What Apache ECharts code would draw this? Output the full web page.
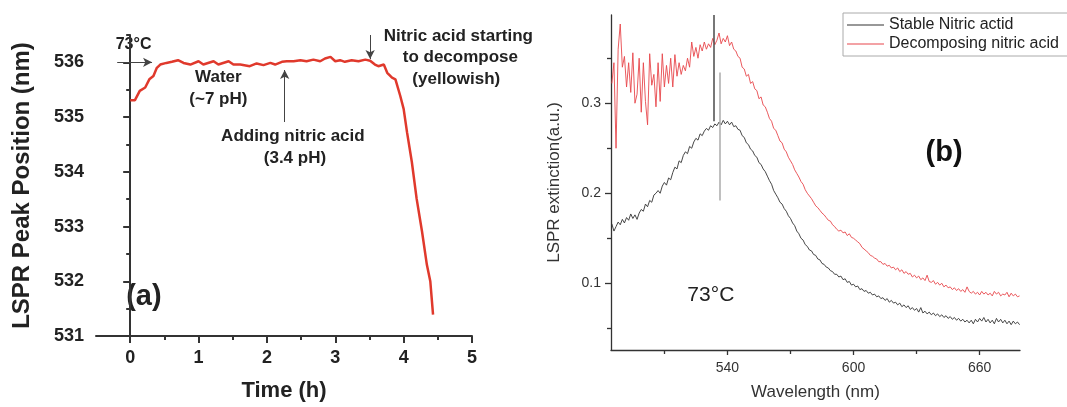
<!DOCTYPE html>
<html><head><meta charset="utf-8">
<script src="https://cdn.jsdelivr.net/npm/echarts@6/dist/echarts.min.js"></script>
<style>html,body{margin:0;padding:0;background:#fff}#c{width:1067px;height:407px}</style>
</head><body><div id="c"></div>
<script>
// ---------- Panel (a): LSPR peak position vs time ----------
const timeH = [0,0.07,0.14,0.22,0.28,0.34,0.39,0.44,0.53,0.61,0.70,0.78,0.88,1.00,1.07,1.22,1.29,1.44,1.51,1.61,1.75,1.85,1.95,2.05,2.12,2.22,2.29,2.39,2.49,2.58,2.68,2.78,2.85,2.93,3.00,3.07,3.14,3.24,3.34,3.44,3.51,3.58,3.63,3.71,3.76,3.83,3.88,3.95,4.00,4.05,4.12,4.19,4.27,4.34,4.39,4.43];
const peakNm = [535.31,535.31,535.48,535.54,535.69,535.75,535.90,535.96,535.99,536.01,536.04,535.99,535.96,536.02,535.96,536.02,535.96,536.02,535.96,535.96,535.93,535.98,535.95,535.99,535.96,536.01,536.02,536.02,536.04,536.02,536.05,536.02,536.07,536.10,536.02,536.04,536.01,536.04,536.02,536.05,536.03,535.96,535.93,535.96,535.81,535.72,535.69,535.39,535.15,534.72,534.18,533.51,532.90,532.30,532.00,531.39];
const aXMajor = [0,1,2,3,4,5];
const aXMinor = [0.5,1.5,2.5,3.5,4.5];
const aYMajor = [531,532,533,534,535,536];
const aYMinor = [531.5,532.5,533.5,534.5,535.5,536.5];

// ---------- Panel (b): LSPR extinction spectra (1 nm step from 485 nm) ----------
const wlStart = 485, wlStep = 1;
const stableExt = [
0.166,0.158,0.163,0.168,0.165,0.171,0.167,0.173,0.170,0.177,
0.172,0.176,0.171,0.178,0.182,0.180,0.188,0.185,0.192,0.190,
0.198,0.200,0.203,0.200,0.208,0.212,0.209,0.217,0.215,0.223,
0.229,0.227,0.236,0.234,0.242,0.246,0.244,0.252,0.250,0.257,
0.261,0.259,0.266,0.264,0.269,0.272,0.270,0.275,0.273,0.277,
0.275,0.279,0.276,0.281,0.277,0.280,0.276,0.279,0.274,0.275,
0.271,0.270,0.264,0.262,0.256,0.254,0.249,0.247,0.242,0.240,
0.234,0.232,0.227,0.224,0.219,0.214,0.210,0.203,0.199,0.195,
0.190,0.188,0.183,0.180,0.175,0.172,0.167,0.164,0.158,0.155,
0.150,0.148,0.143,0.141,0.137,0.136,0.132,0.131,0.127,0.126,
0.122,0.121,0.118,0.117,0.114,0.113,0.110,0.110,0.107,0.108,
0.104,0.105,0.101,0.102,0.098,0.099,0.096,0.097,0.093,0.094,
0.091,0.092,0.089,0.090,0.087,0.088,0.085,0.086,0.083,0.084,
0.081,0.083,0.079,0.081,0.078,0.079,0.076,0.078,0.074,0.076,
0.073,0.075,0.071,0.073,0.070,0.072,0.068,0.073,0.067,0.069,
0.066,0.068,0.065,0.067,0.064,0.066,0.063,0.065,0.062,0.064,
0.061,0.063,0.060,0.062,0.059,0.061,0.058,0.060,0.057,0.059,
0.056,0.059,0.055,0.060,0.057,0.061,0.058,0.062,0.057,0.060,
0.056,0.059,0.055,0.061,0.057,0.060,0.056,0.059,0.055,0.058,
0.054,0.058,0.055,0.057,0.054];
const decompExt = [
0.322,0.345,0.250,0.360,0.388,0.340,0.352,0.318,0.345,0.312,
0.356,0.300,0.310,0.350,0.290,0.345,0.302,0.276,0.355,0.320,
0.332,0.296,0.345,0.302,0.355,0.318,0.342,0.322,0.350,0.318,
0.354,0.330,0.345,0.332,0.342,0.336,0.350,0.340,0.368,0.352,
0.362,0.350,0.365,0.358,0.368,0.360,0.366,0.362,0.372,0.365,
0.370,0.378,0.366,0.372,0.368,0.375,0.364,0.368,0.360,0.358,
0.352,0.350,0.340,0.338,0.330,0.332,0.322,0.324,0.316,0.314,
0.305,0.307,0.298,0.296,0.290,0.283,0.280,0.272,0.270,0.264,
0.258,0.256,0.249,0.246,0.240,0.236,0.232,0.226,0.222,0.218,
0.213,0.210,0.204,0.200,0.197,0.194,0.190,0.186,0.184,0.181,
0.178,0.176,0.173,0.170,0.169,0.165,0.163,0.160,0.158,0.159,
0.156,0.157,0.153,0.155,0.151,0.150,0.148,0.146,0.144,0.140,
0.138,0.136,0.134,0.131,0.130,0.128,0.127,0.124,0.124,0.121,
0.122,0.119,0.120,0.117,0.118,0.115,0.117,0.113,0.115,0.111,
0.113,0.110,0.111,0.107,0.109,0.106,0.108,0.104,0.106,0.103,
0.109,0.102,0.101,0.103,0.099,0.101,0.098,0.100,0.096,0.098,
0.095,0.096,0.093,0.095,0.092,0.094,0.091,0.093,0.090,0.096,
0.091,0.089,0.091,0.088,0.090,0.087,0.091,0.088,0.090,0.087,
0.089,0.086,0.091,0.088,0.090,0.086,0.088,0.087,0.090,0.085,
0.089,0.086,0.088,0.085,0.086];
const bXMajor = [540,600,660];
const bXMinor = [510,570,630];
const bYMajor = [0.1,0.2,0.3];
const bYMinor = [0.05,0.15,0.25,0.35];
const seriesNames = ['Stable Nitric actid','Decomposing nitric acid'];

// marker lines in panel (b): [wavelength, from, to, colour, width]
const bMarkers = [[533.3,0.280,0.398,'#555',1.6],[536.3,0.192,0.334,'#b0b0b0',1.6]];

const FONT = '"Liberation Sans", Arial, Helvetica, sans-serif';
const chart = echarts.init(document.getElementById('c'), null, {renderer:'canvas'});

const aAxisLine = {lineStyle:{color:'#333', width:2}};
const bAxisLine = {lineStyle:{color:'#333', width:1.3}};

const pairs = (xs, ys) => xs.map((x,i)=>[x, ys[i]]);
const wlPairs = ys => ys.map((v,i)=>[wlStart + i*wlStep, v]);

chart.setOption({
  animation:false,
  backgroundColor:'#fff',
  textStyle:{fontFamily:FONT},
  grid:[
    {left:96, top:35, width:376, height:303},
    {left:611, top:15, width:409, height:335}
  ],
  legend:{
    data:seriesNames, orient:'vertical', left:843, top:13,
    icon:'rect', itemWidth:37, itemHeight:1.2, itemGap:3,
    padding:[4,10,4,4], borderColor:'#aaa', borderWidth:1,
    textStyle:{fontSize:16, color:'#222', fontFamily:FONT}
  },
  xAxis:[
    {type:'value', gridIndex:0, position:'bottom', min:-0.5, max:5,
     axisLine:aAxisLine, splitLine:{show:false},
     axisTick:{customValues:aXMajor, length:7, lineStyle:{width:2,color:'#333'}},
     axisLabel:{customValues:aXMajor, fontSize:18, fontWeight:'bold', color:'#222', margin:13},
     name:'Time (h)', nameLocation:'middle', nameGap:44,
     nameTextStyle:{fontSize:22, fontWeight:'bold', color:'#222'}},
    {type:'value', gridIndex:0, position:'bottom', min:-0.5, max:5,
     axisLine:{show:false}, splitLine:{show:false}, axisLabel:{show:false},
     axisTick:{customValues:aXMinor, length:4, lineStyle:{width:2,color:'#333'}}},
    {type:'value', gridIndex:1, position:'bottom', min:484.6, max:679.2,
     axisLine:bAxisLine, splitLine:{show:false},
     axisTick:{customValues:bXMajor, length:5, lineStyle:{width:1.3,color:'#333'}},
     axisLabel:{customValues:bXMajor, fontSize:14, color:'#333', margin:11},
     name:'Wavelength (nm)', nameLocation:'middle', nameGap:34,
     nameTextStyle:{fontSize:17, color:'#333'}},
    {type:'value', gridIndex:1, position:'bottom', min:484.6, max:679.2,
     axisLine:{show:false}, splitLine:{show:false}, axisLabel:{show:false},
     axisTick:{customValues:bXMinor, length:4, lineStyle:{width:1.3,color:'#333'}}}
  ],
  yAxis:[
    {type:'value', gridIndex:0, position:'left', min:531, max:536.5,
     axisLine:aAxisLine, splitLine:{show:false},
     axisTick:{customValues:aYMajor, length:7, lineStyle:{width:2,color:'#333'}},
     axisLabel:{customValues:aYMajor, fontSize:18, fontWeight:'bold', color:'#222', margin:12},
     name:'LSPR Peak Position (nm)', nameLocation:'middle', nameGap:62,
     nameTextStyle:{fontSize:24, fontWeight:'bold', color:'#222'}},
    {type:'value', gridIndex:0, position:'left', min:531, max:536.5,
     axisLine:{show:false}, splitLine:{show:false}, axisLabel:{show:false},
     axisTick:{customValues:aYMinor, length:4, lineStyle:{width:2,color:'#333'}}},
    {type:'value', gridIndex:1, position:'left', min:0.0259, max:0.398,
     axisLine:bAxisLine, splitLine:{show:false},
     axisTick:{customValues:bYMajor, length:6, lineStyle:{width:1.3,color:'#333'}},
     axisLabel:{customValues:bYMajor, fontSize:14, color:'#333', margin:10},
     name:'LSPR extinction(a.u.)', nameLocation:'middle', nameGap:48,
     nameTextStyle:{fontSize:17, color:'#333'}},
    {type:'value', gridIndex:1, position:'left', min:0.0259, max:0.398,
     axisLine:{show:false}, splitLine:{show:false}, axisLabel:{show:false},
     axisTick:{customValues:bYMinor, length:4, lineStyle:{width:1.3,color:'#333'}}}
  ],
  series:[
    {type:'line', name:'peak', xAxisIndex:0, yAxisIndex:0, data:pairs(timeH, peakNm),
     symbol:'none', clip:false, lineStyle:{color:'#e0392c', width:2.5}, itemStyle:{color:'#e0392c'},
     markLine:{silent:true, symbol:['none','arrow'], symbolSize:[7,9], label:{show:false},
       lineStyle:{color:'#444', width:1, type:'solid'},
       data:[
         [{coord:[-0.19,536.0]},{coord:[0.32,536.0]}],
         [{coord:[2.26,534.91]},{coord:[2.26,535.86]}],
         [{coord:[3.51,536.5]},{coord:[3.51,536.06]}]
       ]}},
    {type:'line', name:seriesNames[0], xAxisIndex:2, yAxisIndex:2, data:wlPairs(stableExt),
     symbol:'none', clip:false, lineStyle:{color:'#333', width:0.9}, itemStyle:{color:'#333'},
     markLine:{silent:true, symbol:['none','none'], label:{show:false},
       data:bMarkers.map(m=>[{coord:[m[0],m[1]], lineStyle:{color:m[3], width:m[4], type:'solid'}},{coord:[m[0],m[2]]}])}},
    {type:'line', name:seriesNames[1], xAxisIndex:2, yAxisIndex:2, data:wlPairs(decompExt),
     symbol:'none', clip:false, lineStyle:{color:'#e8474c', width:0.9}, itemStyle:{color:'#e8474c'}}
  ]
});

// ---------- text annotations placed in data coordinates ----------
const annA = [
  {text:'73°C', at:[0.05,536.33], size:16, bold:true},
  {text:'Water', at:[1.29,535.73], size:17, bold:true},
  {text:'(~7 pH)', at:[1.29,535.33], size:17, bold:true},
  {text:'Adding nitric acid', at:[2.38,534.65], size:17, bold:true},
  {text:'(3.4 pH)', at:[2.41,534.25], size:17, bold:true},
  {text:'Nitric acid starting', at:[4.8,536.47], size:17, bold:true},
  {text:'to decompose', at:[4.83,536.09], size:17, bold:true},
  {text:'(yellowish)', at:[4.77,535.69], size:17, bold:true},
  {text:'(a)', at:[0.2,531.71], size:29, bold:true}
];
const annB = [
  {text:'73°C', at:[532.1,0.087], size:21, bold:false},
  {text:'(b)', at:[643.1,0.245], size:29, bold:true}
];
function textEl(a, finder, color){
  const p = chart.convertToPixel(finder, a.at);
  return {type:'text', x:p[0], y:p[1], silent:true,
    style:{text:a.text, fill:color, font:(a.bold?'bold ':'')+a.size+'px '+FONT,
      textAlign:'center', textVerticalAlign:'middle', align:'center', verticalAlign:'middle'}};
}
chart.setOption({graphic:[
  ...annA.map(a=>textEl(a,{xAxisIndex:0,yAxisIndex:0},'#222')),
  ...annB.map(a=>textEl(a,{xAxisIndex:2,yAxisIndex:2},a.bold?'#111':'#222'))
]});
</script></body></html>
